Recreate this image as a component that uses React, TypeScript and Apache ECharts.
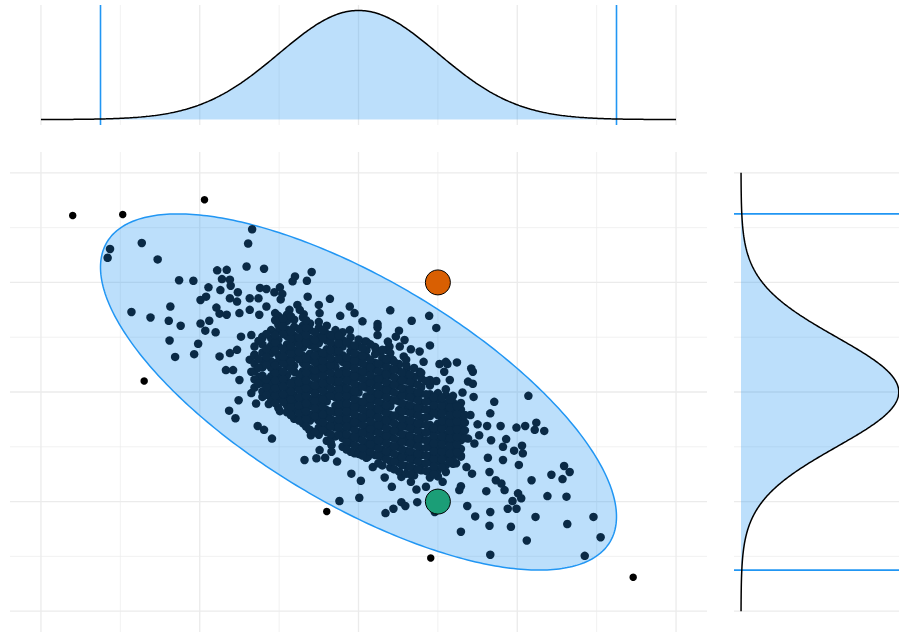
import React, { useEffect, useRef } from "react";
import * as echarts from "echarts";

// ---- axis / reference values ----
const gridTicks = [-4, -3, -2, -1, 0, 1, 2, 3, 4];
const majorTicks = [-4, -2, 0, 2, 4];
const cutoffValues = [-3.25, 3.25];
const densityRange = [-4, 4];

// ---- model parameters (bivariate normal, unit variances) ----
const ellipseCenter = [0, 0];
const ellipseCorrelation = -0.7;
const ellipseRadius = 3.25; // Mahalanobis distance of the ellipse
const marginalMean = 0;
const marginalSd = 1;

// ---- highlighted points ----
const orangePoint = [[1, 2]];
const greenPoint = [[1, -2]];

// ---- points outside the ellipse ----
const outlierPoints = [
  [-3.6, 3.22], [-2.97, 3.24], [-1.94, 3.51], [-2.7, 0.2],
  [-0.4, -2.18], [0.91, -3.03], [3.46, -3.38],
];

// ---- sparse cloud points read individually ----
const sparsePoints = [
  [-1.34, 2.97], [-1.39, 2.71], [-2.73, 2.72], [-3.13, 2.61], [-3.16, 2.45], [-2.53, 2.42],
  [-1.41, 2.29], [-1.19, 2.25], [-1.78, 2.22], [-1.66, 2.23], [-2.26, 2.04], [-2.08, 2.03],
  [-0.59, 2.19], [-0.8, 2.11], [-0.83, 2.02], [-0.65, 2.03], [-1.72, 2.06], [-1.62, 2.05],
  [-1.61, 1.94], [-1.89, 1.91], [-1.74, 1.86], [-1.52, 1.82], [-1.24, 1.9], [-1.16, 1.88],
  [-0.99, 1.91], [-1.06, 1.82], [-0.96, 1.79], [-1.37, 1.71], [-1.26, 1.71], [-1.62, 1.71],
  [-1.92, 1.74], [-1.99, 1.68], [-1.53, 1.65], [-0.64, 1.74], [-0.36, 1.7], [-0.98, 1.69],
  [-0.11, 1.56], [0.4, 1.49], [0.89, 1.39], [0.67, 1.3], [0.98, 1.17], [0.05, 1.29],
  [-0.05, 1.44], [-0.23, 1.39], [0.24, 1.24], [0.24, 1.18], [-0.5, 1.59], [-0.49, 1.44],
  [-1.79, 1.54], [-2.86, 1.46], [-2.62, 1.36], [-2.37, 1.56], [-2.39, 1.3], [-2.24, 1.21],
  [-2.38, 0.94], [-2.31, 0.64], [-2.02, 0.88], [-2.07, 0.69], [-1.99, 1.25], [-1.93, 1.12],
  [-1.88, 1.3], [-1.8, 1.09], [-1.75, 1.43], [-1.66, 1.41], [-1.5, 1.44], [-1.37, 1.5],
  [-1.25, 1.41], [-1.16, 1.56], [-1.05, 1.44], [-0.95, 1.32], [-0.87, 1.5], [-0.77, 1.59],
  [-0.69, 1.42], [-1.48, 1.01], [-1.35, 1.04], [-1.21, 1.01], [-1.75, 0.65], [-1.62, 0.71],
  [-1.53, 0.77], [-1.37, 0.59], [-1.31, 0.68], [-1.67, 0.4], [-1.58, 0.4], [0.57, 0.65],
  [0.61, 0.43], [0.9, 0.85], [0.82, 0.55], [0.98, 0.2], [1.02, 0.51], [0.52, 0.83],
  [0.37, 0.92], [0.28, 0.74],
  [-1.35, 0.37], [-1.5, 0.22], [-1.25, 0.28], [-1.35, -0.02], [-1.51, -0.15], [-1.63, -0.34],
  [-1.55, -0.48], [-1.29, -0.21], [-1.13, -0.22], [-0.99, -0.35], [-1.21, -0.09], [-1.27, -0.62],
  [-1.19, -0.69], [-1.09, -0.85], [-1.04, 0.1], [-0.87, -0.18], [-0.95, 0.36], [-0.68, -1.24],
  [-0.53, -1.21], [-0.42, -1.2], [-0.49, -1.06], [-0.34, -0.97], [-0.27, -1.27], [-0.6, -0.79],
  [-0.85, -0.42], [-0.74, -0.45], [-0.51, -0.51], [-0.62, -0.69], [-0.15, -0.88], [-0.05, -1.12],
  [0.12, -1.18], [0.18, -1.37],
  [-0.34, -1.09], [-0.09, -1.49], [0.03, -1.62], [0.33, -1.56], [0.42, -1.73], [0.01, -1.93],
  [-0.24, -1.99], [0.34, -2.21], [0.44, -2.13], [0.54, -2.01], [0.59, -2.08], [0.74, -2.01],
  [0.54, -1.55], [0.66, -1.64], [0.73, -1.78], [0.85, -1.73], [0.98, -1.49], [1.06, -1.64],
  [0.96, -2.19], [1.29, -1.72], [1.27, -1.79], [1.37, -2.08], [1.47, -2.27], [1.29, -2.55],
  [1.43, -1.49], [1.23, -1.3], [1.36, -1.37],
  [1.31, -0.01], [1.45, -0.09], [1.71, -0.18], [2.14, -0.07], [1.66, -0.39], [1.25, -0.27],
  [1.41, -0.42], [1.5, -0.59], [1.62, -0.62], [1.79, -0.62], [1.99, -0.65], [2.1, -0.62],
  [2.24, -0.56], [2.22, -0.69], [2.34, -0.71], [1.17, -0.57], [1.28, -0.76], [1.38, -0.85],
  [1.52, -0.79], [1.67, -0.88], [1.86, -0.86], [1.82, -1.0], [1.96, -1.07], [2.07, -1.12],
  [2.06, -0.98], [1.63, -1.2], [1.82, -1.24], [2.02, -1.33], [1.65, -1.46], [1.73, -1.61],
  [1.8, -1.67], [1.61, -1.81], [1.84, -1.79], [2.01, -1.85], [1.94, -1.99], [2.05, -1.94],
  [1.99, -2.13], [1.88, -2.13], [2.18, -1.61], [2.43, -1.51], [2.59, -1.35], [2.66, -1.46],
  [2.57, -1.59], [2.38, -1.9], [2.62, -1.91], [2.23, -2.28], [2.63, -2.41], [2.96, -2.28],
  [3.05, -2.65], [2.85, -2.99], [2.12, -2.71], [1.92, -2.46], [1.65, -2.44], [1.66, -2.97],
  [1.66, -2.19], [1.46, -0.94], [1.29, -1.18],
  [1.24, 0.54], [1.12, 0.51], [1.42, 0.43], [1.44, 0.37], [1.08, 0.37], [1.15, 0.22],
  [1.38, 0.19], [1.44, 0.15],
  [0.51, 1.12], [0.58, 0.95], [0.66, 0.78], [0.77, 0.74], [0.77, 0.37], [1.1, 0.55],
  [0.24, 1.04], [0.47, 1.01], [0.39, 0.83], [0.43, 0.59], [-0.11, 1.13], [0.08, 0.92],
  [0.22, 0.77], [0.35, 0.77], [-0.74, 1.5],
];

// ---- dense core of the cloud, read column by column (x, list of y) ----
const coreColumns: [number, number[]][] = [
  [-1.31, [0.08, 0.23, 0.38, 0.52, 0.67, 0.83]],
  [-1.21, [0.01, 0.16, 0.3, 0.45, 0.57, 0.72, 0.87, 0.99]],
  [-1.1, [-0.12, 0.02, 0.15, 0.29, 0.44, 0.56, 0.71, 0.85, 0.98, 1.13]],
  [-1.01, [-0.29, -0.13, 0.0, 0.14, 0.26, 0.41, 0.56, 0.68, 0.84, 0.95, 1.11, 1.23, 1.39]],
  [-0.9, [-0.37, -0.25, -0.09, 0.04, 0.19, 0.31, 0.47, 0.59, 0.74, 0.87, 1.02, 1.14, 1.3, 1.41]],
  [-0.81, [-0.49, -0.34, -0.19, -0.07, 0.09, 0.21, 0.37, 0.48, 0.64, 0.76, 0.92, 1.03, 1.19, 1.32]],
  [-0.7, [-0.57, -0.45, -0.29, -0.18, -0.02, 0.1, 0.26, 0.38, 0.53, 0.66, 0.81, 0.93, 1.09, 1.21, 1.36]],
  [-0.61, [-0.69, -0.52, -0.41, -0.25, -0.13, 0.03, 0.14, 0.3, 0.42, 0.58, 0.7, 0.86, 0.97, 1.13, 1.25]],
  [-0.5, [-0.78, -0.65, -0.5, -0.38, -0.21, -0.1, 0.06, 0.18, 0.34, 0.46, 0.62, 0.73, 0.89, 1.01, 1.17, 1.28]],
  [-0.4, [-0.89, -0.73, -0.61, -0.45, -0.33, -0.17, -0.05, 0.11, 0.23, 0.39, 0.5, 0.66, 0.78, 0.94, 1.06, 1.21]],
  [-0.29, [-0.81, -0.65, -0.53, -0.37, -0.25, -0.1, 0.02, 0.18, 0.3, 0.46, 0.57, 0.73, 0.85, 1.01, 1.13]],
  [-0.2, [-1.0, -0.84, -0.72, -0.56, -0.44, -0.28, -0.16, 0.0, 0.12, 0.28, 0.39, 0.55, 0.67, 0.83, 0.95, 1.09]],
  [-0.1, [-1.09, -0.93, -0.81, -0.65, -0.53, -0.37, -0.25, -0.09, 0.03, 0.19, 0.31, 0.47, 0.59, 0.74, 0.86, 1.0]],
  [0.0, [-1.13, -1.01, -0.85, -0.73, -0.57, -0.45, -0.29, -0.17, -0.01, 0.11, 0.27, 0.39, 0.55, 0.67, 0.83, 0.96]],
  [0.1, [-1.2, -1.04, -0.92, -0.76, -0.64, -0.48, -0.36, -0.2, -0.08, 0.08, 0.2, 0.36, 0.48, 0.64, 0.76, 0.92]],
  [0.21, [-1.15, -0.99, -0.87, -0.71, -0.59, -0.43, -0.31, -0.15, -0.03, 0.13, 0.25, 0.41, 0.53, 0.69, 0.82]],
  [0.3, [-1.34, -1.18, -1.06, -0.9, -0.78, -0.62, -0.5, -0.34, -0.22, -0.06, 0.06, 0.22, 0.34, 0.5, 0.62, 0.77]],
  [0.4, [-1.38, -1.26, -1.1, -0.98, -0.82, -0.7, -0.54, -0.42, -0.26, -0.14, 0.02, 0.14, 0.3, 0.42, 0.58, 0.71]],
  [0.51, [-1.45, -1.29, -1.17, -1.01, -0.89, -0.73, -0.61, -0.45, -0.33, -0.17, -0.05, 0.11, 0.23, 0.39, 0.51]],
  [0.6, [-1.49, -1.35, -1.19, -1.07, -0.91, -0.79, -0.63, -0.51, -0.35, -0.23, -0.07, 0.05, 0.21, 0.33, 0.49, 0.59]],
  [0.7, [-1.52, -1.4, -1.24, -1.12, -0.96, -0.84, -0.68, -0.56, -0.4, -0.28, -0.12, 0.0, 0.16, 0.28, 0.44]],
  [0.79, [-1.43, -1.31, -1.15, -1.03, -0.87, -0.75, -0.59, -0.47, -0.31, -0.19, -0.03, 0.09, 0.25, 0.35]],
  [0.9, [-1.56, -1.44, -1.28, -1.16, -1.0, -0.88, -0.72, -0.6, -0.44, -0.32, -0.16, -0.04, 0.12, 0.22]],
  [1.0, [-1.54, -1.42, -1.26, -1.14, -0.98, -0.86, -0.7, -0.58, -0.42, -0.3, -0.14, -0.02]],
  [1.1, [-1.46, -1.34, -1.18, -1.06, -0.9, -0.78, -0.62, -0.5, -0.34, -0.22, -0.06, 0.05]],
  [1.19, [-1.31, -1.19, -1.03, -0.91, -0.75, -0.63, -0.47, -0.35, -0.19, -0.07]],
  [1.29, [-1.16, -1.04, -0.88, -0.76, -0.6, -0.48, -0.32, -0.2]],
  // in-between columns of the dense core
  [-1.26, [0.15, 0.44, 0.6, 0.93]],
  [-1.16, [-0.05, 0.09, 0.23, 0.5, 0.64, 0.79, 1.06]],
  [-1.05, [-0.2, -0.06, 0.07, 0.21, 0.35, 0.49, 0.77, 0.9, 1.04, 1.31]],
  [-0.95, [-0.18, -0.04, 0.1, 0.24, 0.37, 0.52, 0.65, 0.79, 1.06, 1.2, 1.34]],
  [-0.85, [-0.42, -0.27, -0.13, 0.01, 0.15, 0.43, 0.56, 0.7, 0.84, 0.98, 1.1, 1.38]],
  [-0.75, [-0.52, -0.38, -0.24, -0.1, 0.04, 0.18, 0.32, 0.6, 0.73, 0.87, 1.0, 1.15]],
  [-0.66, [-0.63, -0.49, -0.35, -0.21, -0.07, 0.07, 0.21, 0.35, 0.48, 0.62, 0.9, 1.04, 1.18, 1.31]],
  [-0.55, [-0.73, -0.44, -0.3, -0.16, -0.02, 0.12, 0.26, 0.4, 0.54, 0.67, 0.81, 0.95, 1.09]],
  [-0.45, [-0.69, -0.55, -0.41, -0.27, -0.13, 0.02, 0.16, 0.3, 0.44, 0.57, 0.71, 0.99, 1.13]],
  [-0.35, [-0.91, -0.77, -0.63, -0.49, -0.35, -0.07, 0.07, 0.21, 0.35, 0.49, 0.62, 0.76, 0.9, 1.04]],
  [-0.25, [-0.78, -0.64, -0.5, -0.36, -0.22, -0.08, 0.06, 0.2, 0.34, 0.61, 0.75, 0.89, 1.03]],
  [-0.15, [-1.05, -0.91, -0.77, -0.63, -0.49, -0.35, -0.21, -0.07, 0.07, 0.21, 0.35, 0.49, 0.63, 0.91]],
  [-0.05, [-0.97, -0.83, -0.69, -0.55, -0.41, -0.27, -0.13, 0.01, 0.15, 0.29, 0.43, 0.57, 0.71, 0.85]],
  [0.05, [-1.16, -1.02, -0.88, -0.74, -0.6, -0.46, -0.32, -0.18, 0.1, 0.24, 0.38, 0.52, 0.66, 0.8]],
  [0.15, [-1.09, -0.95, -0.81, -0.67, -0.53, -0.39, -0.25, -0.11, 0.03, 0.17, 0.31, 0.45, 0.59, 0.87]],
  [0.25, [-1.3, -1.16, -1.02, -0.88, -0.74, -0.6, -0.46, -0.32, -0.18, -0.04, 0.1, 0.24, 0.38, 0.52]],
  [0.35, [-1.22, -1.08, -0.94, -0.8, -0.66, -0.52, -0.38, -0.24, -0.1, 0.04, 0.18, 0.32, 0.46, 0.6]],
  [0.45, [-1.41, -1.27, -1.13, -0.99, -0.85, -0.71, -0.57, -0.43, -0.15, -0.01, 0.13, 0.27, 0.41, 0.55]],
  [0.55, [-1.33, -1.19, -1.05, -0.91, -0.77, -0.63, -0.49, -0.35, -0.21, -0.07, 0.07, 0.21, 0.35]],
  [0.65, [-1.5, -1.36, -1.22, -1.08, -0.94, -0.8, -0.66, -0.52, -0.38, -0.24, -0.1, 0.04, 0.18, 0.32]],
  [0.75, [-1.41, -1.27, -1.13, -0.99, -0.85, -0.71, -0.57, -0.43, -0.29, -0.15, -0.01, 0.13]],
  [0.85, [-1.44, -1.3, -1.16, -1.02, -0.88, -0.74, -0.6, -0.46, -0.32, -0.18, -0.04, 0.2]],
  [0.95, [-1.5, -1.36, -1.22, -1.08, -0.94, -0.8, -0.66, -0.38, -0.24, -0.1]],
  [1.05, [-1.37, -1.23, -1.09, -0.95, -0.81, -0.67, -0.53, -0.39, -0.25, -0.11]],
  [1.15, [-1.26, -1.12, -0.98, -0.84, -0.7, -0.56, -0.42, -0.28, -0.14]],
  [1.24, [-1.1, -0.96, -0.82, -0.68, -0.54, -0.4, -0.26]],
  [1.34, [-0.84, -0.7, -0.56, -0.42]],
];

// ---- colours ----
const NAVY = "#0a2a46";
const BLUE = "#2196F3";
const FILL = "rgba(33,150,243,0.3)";
const GRID = "#ebebeb";

const normalPdf = (v: number) =>
  Math.exp(-0.5 * ((v - marginalMean) / marginalSd) ** 2) / (marginalSd * Math.sqrt(2 * Math.PI));

export default function App() {
  const ref = useRef<HTMLDivElement>(null);

  useEffect(() => {
    if (!ref.current) return;
    const chart = echarts.init(ref.current, undefined, { renderer: "svg" });

    const corePoints: number[][] = [];
    coreColumns.forEach(([x, ys]) => ys.forEach((y) => corePoints.push([x, y])));
    const cloud = [...sparsePoints, ...corePoints];

    // theoretical marginal density curve
    const curve: number[][] = [];
    for (let v = densityRange[0]; v <= densityRange[1] + 1e-9; v += 0.02) curve.push([v, normalPdf(v)]);
    const shaded = curve.filter((p) => p[0] >= cutoffValues[0] - 1e-9 && p[0] <= cutoffValues[1] + 1e-9);

    // ellipse outline from model parameters
    const ellipse: number[][] = [];
    const r = ellipseCorrelation;
    for (let i = 0; i <= 360; i++) {
      const t = (i / 360) * 2 * Math.PI;
      ellipse.push([
        ellipseCenter[0] + ellipseRadius * Math.cos(t),
        ellipseCenter[1] + ellipseRadius * (r * Math.cos(t) + Math.sqrt(1 - r * r) * Math.sin(t)),
      ]);
    }

    const vLines = (xi: number, yi: number, values: number[], color: (v: number) => string, width: (v: number) => number, z: number) => ({
      type: "custom",
      xAxisIndex: xi,
      yAxisIndex: yi,
      silent: true,
      z,
      data: values.map((v) => [v, 0]),
      encode: { x: 0, y: 1 },
      renderItem: (params: any, api: any) => {
        const v = api.value(0);
        const cs = params.coordSys;
        const x = api.coord([v, 0])[0];
        return {
          type: "line",
          shape: { x1: x, y1: cs.y, x2: x, y2: cs.y + cs.height },
          style: { stroke: color(v), lineWidth: width(v) },
        };
      },
    });
    const hLines = (xi: number, yi: number, values: number[], color: (v: number) => string, width: (v: number) => number, z: number) => ({
      type: "custom",
      xAxisIndex: xi,
      yAxisIndex: yi,
      silent: true,
      z,
      data: values.map((v) => [0, v]),
      encode: { x: 0, y: 1 },
      renderItem: (params: any, api: any) => {
        const v = api.value(1);
        const cs = params.coordSys;
        const y = api.coord([0, v])[1];
        return {
          type: "line",
          shape: { x1: cs.x, y1: y, x2: cs.x + cs.width, y2: y },
          style: { stroke: color(v), lineWidth: width(v) },
        };
      },
    });
    const gw = (v: number) => (majorTicks.includes(v) ? 1.3 : 0.7);
    const gc = () => GRID;

    const polygon = (xi: number, yi: number, pts: number[][], style: any, z: number) => ({
      type: "custom",
      xAxisIndex: xi,
      yAxisIndex: yi,
      silent: true,
      z,
      data: [[0, 0]],
      encode: { x: 0, y: 1 },
      renderItem: (_p: any, api: any) => ({
        type: "polygon",
        shape: { points: pts.map((p) => api.coord(p)) },
        style,
      }),
    });

    const option: any = {
      animation: false,
      backgroundColor: "#ffffff",
      grid: [
        { left: 10, top: 152, width: 697, height: 480 },
        { left: 10, top: 5, width: 697, height: 120 },
        { left: 734, top: 152, width: 165, height: 480 },
      ],
      xAxis: [
        { gridIndex: 0, type: "value", min: -4.39, max: 4.39, show: false },
        { gridIndex: 1, type: "value", min: -4.39, max: 4.39, show: false },
        { gridIndex: 2, type: "value", min: -0.0177, max: 0.3995, show: false },
      ],
      yAxis: [
        { gridIndex: 0, type: "value", min: -4.38, max: 4.38, show: false },
        { gridIndex: 1, type: "value", min: -0.01995, max: 0.4188, show: false },
        { gridIndex: 2, type: "value", min: -4.38, max: 4.38, show: false },
      ],
      series: [
        // grid lines
        vLines(0, 0, gridTicks, gc, gw, 0),
        hLines(0, 0, gridTicks, gc, gw, 0),
        vLines(1, 1, gridTicks, gc, gw, 0),
        hLines(2, 2, gridTicks, gc, gw, 0),
        // shaded marginal areas
        polygon(1, 1, [[cutoffValues[0], 0], ...shaded, [cutoffValues[1], 0]], { fill: FILL }, 1),
        polygon(2, 2, [[0, cutoffValues[0]], ...shaded.map((p) => [p[1], p[0]]), [0, cutoffValues[1]]], { fill: FILL }, 1),
        // ellipse
        polygon(0, 0, ellipse, { fill: FILL, stroke: BLUE, lineWidth: 1.5 }, 2),
        // cutoff lines
        vLines(1, 1, cutoffValues, () => BLUE, () => 1.6, 3),
        hLines(2, 2, cutoffValues, () => BLUE, () => 1.6, 3),
        // density curves
        {
          type: "line",
          xAxisIndex: 1,
          yAxisIndex: 1,
          data: curve,
          showSymbol: false,
          silent: true,
          z: 4,
          lineStyle: { color: "#000000", width: 1.5 },
        },
        {
          type: "line",
          xAxisIndex: 2,
          yAxisIndex: 2,
          data: curve.map((p) => [p[1], p[0]]),
          showSymbol: false,
          silent: true,
          z: 4,
          lineStyle: { color: "#000000", width: 1.5 },
        },
        // points
        {
          type: "scatter",
          xAxisIndex: 0,
          yAxisIndex: 0,
          data: cloud,
          symbolSize: 8.5,
          silent: true,
          z: 5,
          itemStyle: { color: NAVY, opacity: 1 },
        },
        {
          type: "scatter",
          xAxisIndex: 0,
          yAxisIndex: 0,
          data: outlierPoints,
          symbolSize: 7.5,
          silent: true,
          z: 5,
          itemStyle: { color: "#000000", opacity: 1 },
        },
        {
          type: "scatter",
          xAxisIndex: 0,
          yAxisIndex: 0,
          data: orangePoint,
          symbolSize: 25,
          silent: true,
          z: 6,
          itemStyle: { color: "#D95F02", borderColor: "#000000", borderWidth: 1, opacity: 1 },
        },
        {
          type: "scatter",
          xAxisIndex: 0,
          yAxisIndex: 0,
          data: greenPoint,
          symbolSize: 25,
          silent: true,
          z: 6,
          itemStyle: { color: "#1B9E77", borderColor: "#000000", borderWidth: 1, opacity: 1 },
        },
      ],
    };

    chart.setOption(option);
    return () => chart.dispose();
  }, []);

  return (
    <div
      ref={ref}
      style={{ position: "fixed", left: 0, top: 0, width: 899, height: 632, background: "#fff" }}
    />
  );
}
